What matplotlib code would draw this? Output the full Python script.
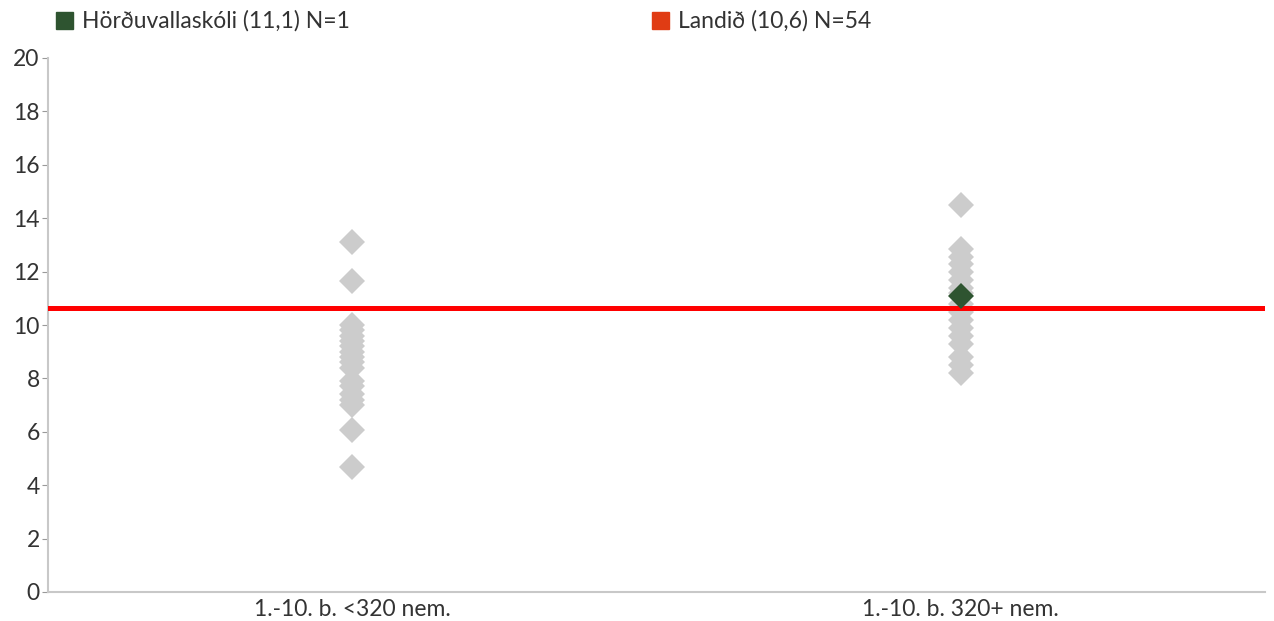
import matplotlib.pyplot as plt
from matplotlib.patches import Rectangle

plt.rcParams['font.family'] = ['Lato', 'DejaVu Sans']

# gögn
categories = ['1.-10. b. <320 nem.', '1.-10. b. 320+ nem.']
small_schools = [13.1, 11.65, 10.0, 9.8, 9.6, 9.4, 9.2, 9.0, 8.8, 8.6, 8.4,
                 7.9, 7.7, 7.4, 7.2, 7.0, 6.05, 4.7]
large_schools = [14.5, 12.85, 12.55, 12.3, 12.0, 11.7, 11.4, 11.2, 10.8, 10.5,
                 10.2, 9.9, 9.6, 9.3, 8.8, 8.5, 8.2]
school_value = 11.1
school_cat = 1
national_value = 10.65
legend_labels = ['Hörðuvallaskóli (11,1) N=1', 'Landið (10,6) N=54']
legend_colors = ['#2e5430', '#e03c14']
yticks = [0, 2, 4, 6, 8, 10, 12, 14, 16, 18, 20]

fig = plt.figure(figsize=(12.74, 6.21), dpi=100)
ax = fig.add_axes([48 / 1274, 29 / 621, 1217 / 1274, 534 / 621])

ax.plot([0] * len(small_schools), small_schools, 'D', ms=13, color='#cccccc',
        markeredgewidth=0, zorder=2)
ax.plot([1] * len(large_schools), large_schools, 'D', ms=13, color='#cccccc',
        markeredgewidth=0, zorder=2)
ax.axhline(national_value, color='#ff0000', lw=3.6, zorder=3)
ax.plot([school_cat], [school_value], 'D', ms=13, color=legend_colors[0],
        markeredgewidth=0, zorder=4)

ax.set_xlim(-0.5, 1.5)
ax.set_ylim(0, 20)
ax.set_yticks(yticks)
ax.set_xticks([0, 1])
ax.set_xticklabels(categories)
for s in ['top', 'right']:
    ax.spines[s].set_visible(False)
for s in ['left', 'bottom']:
    ax.spines[s].set_color('#c8c8c8')
    ax.spines[s].set_linewidth(1.5)
ax.tick_params(axis='y', length=4, color='#999999', labelsize=16.5,
               labelcolor='#333333', pad=2)
ax.tick_params(axis='x', length=0, labelsize=16.5, labelcolor='#333333', pad=5)

# legend
xs = [56, 652]
for x, lab, c in zip(xs, legend_labels, legend_colors):
    fig.patches.append(Rectangle((x / 1274, 1 - 29 / 621), 17 / 1274, 17 / 621,
                                 transform=fig.transFigure, color=c))
    fig.text((x + 26) / 1274, 1 - 21 / 621, lab, fontsize=16.5, color='#333333',
             va='center', ha='left')

fig.savefig('out.png', dpi=100)
